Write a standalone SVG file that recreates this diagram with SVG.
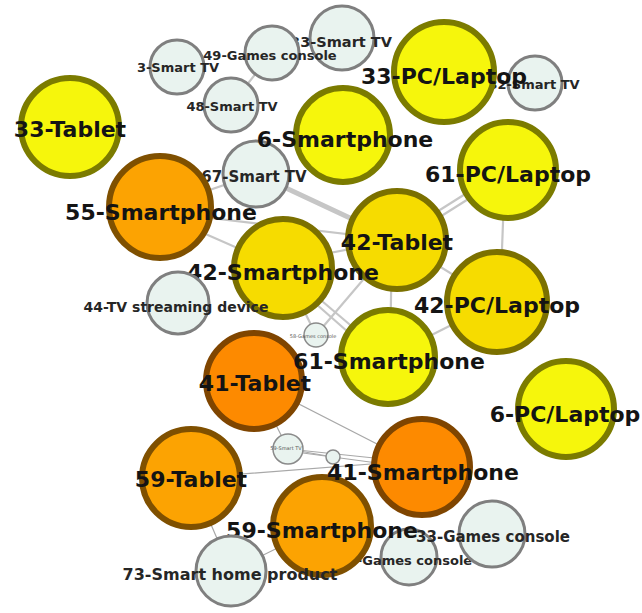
<svg xmlns="http://www.w3.org/2000/svg" width="642" height="613" viewBox="0 0 642 613">
<style>
  .e { stroke: #c6c6c6; fill: none; stroke-linecap: round; }
  .e1 { stroke-width: 1.2; stroke: #a8a8a8; }
  .e2 { stroke-width: 2.2; }
  .e5 { stroke-width: 5; }
  .big { stroke-width: 6; }
  .sm { fill: #e9f3ef; stroke: #7f7f7f; stroke-width: 3; }
  .tiny { fill: #e9f3ef; stroke: #8a8a8a; stroke-width: 1.5; }
  .yel { fill: #f6f60c; stroke: #7b7b00; }
  .gold { fill: #f6dc00; stroke: #7b7000; }
  .org { fill: #fca302; stroke: #7f5000; }
  .dorg { fill: #fd8a00; stroke: #7f4500; }
  text { font-family: "DejaVu Sans", "Liberation Sans", sans-serif; font-weight: bold; text-anchor: middle; }
  .lb { font-size: 22px; fill: #141414; }
  .ls { fill: #262626; }
  .lt { font-size: 5px; fill: #555; font-weight: normal; }
</style>
<g id="connectors">
  <line class="e e5" x1="256" y1="174" x2="397" y2="240"/>
  <line class="e e2" x1="160" y1="207" x2="256" y2="174"/>
  <line class="e e2" x1="160" y1="212" x2="397" y2="240"/>
  <line class="e e2" x1="160" y1="214" x2="283" y2="268"/>
  <line class="e e2" x1="397" y1="237" x2="508" y2="167"/>
  <line class="e e2" x1="397" y1="244" x2="508" y2="174"/>
  <line class="e e2" x1="505" y1="170" x2="500" y2="302"/>
  <line class="e e2" x1="397" y1="240" x2="497" y2="302"/>
  <line class="e e2" x1="392" y1="240" x2="390" y2="357"/>
  <line class="e e2" x1="283" y1="262" x2="397" y2="240"/>
  <line class="e e2" x1="283" y1="268" x2="388" y2="357"/>
  <line class="e e2" x1="283" y1="275" x2="380" y2="360"/>
  <line class="e e2" x1="283" y1="268" x2="316" y2="335"/>
  <line class="e e2" x1="397" y1="240" x2="316" y2="335"/>
  <line class="e e2" x1="388" y1="357" x2="497" y2="302"/>
  <line class="e e2" x1="231" y1="105" x2="272" y2="53"/>
  <line class="e e1" x1="254" y1="381" x2="422" y2="467"/>
  <line class="e e1" x1="191" y1="478" x2="422" y2="460"/>
  <line class="e e1" x1="288" y1="449" x2="422" y2="463"/>
  <line class="e e1" x1="288" y1="451" x2="422" y2="469"/>
  <line class="e e1" x1="288" y1="449" x2="254" y2="381"/>
  <line class="e e1" x1="333" y1="457" x2="288" y2="449"/>
  <line class="e e1" x1="191" y1="478" x2="231" y2="571"/>
  <line class="e e1" x1="322" y1="526" x2="231" y2="571"/>
</g>
<g id="n-3-smart-tv"><circle class="sm" cx="177" cy="67" r="27"/><text class="ls" x="178" y="72" font-size="13">3-Smart TV</text></g>
<g id="n-48-smart-tv"><circle class="sm" cx="231" cy="105" r="27"/><text class="ls" x="232" y="111" font-size="13">48-Smart TV</text></g>
<g id="n-33-smart-tv"><circle class="sm" cx="342" cy="38" r="32"/><text class="ls" x="341" y="47" font-size="14.5">33-Smart TV</text></g>
<g id="n-49-games-console"><circle class="sm" cx="272" cy="53" r="27"/><text class="ls" x="270" y="60" font-size="13">49-Games console</text></g>
<g id="n-32-smart-tv"><circle class="sm" cx="535" cy="83" r="27"/><text class="ls" x="534" y="89" font-size="13">32-Smart TV</text></g>
<g id="n-33-pc-laptop"><circle class="big yel" cx="444" cy="72" r="50"/><text class="lb" x="444" y="84">33-PC/Laptop</text></g>
<g id="n-33-tablet"><circle class="big yel" cx="70" cy="127" r="49"/><text class="lb" x="70" y="137">33-Tablet</text></g>
<g id="n-67-smart-tv"><circle class="sm" cx="256" cy="174" r="33"/><text class="ls" x="254" y="182" font-size="15">67-Smart TV</text></g>
<g id="n-6-smartphone"><circle class="big yel" cx="343" cy="135" r="47"/><text class="lb" x="345" y="147">6-Smartphone</text></g>
<g id="n-55-smartphone"><circle class="big org" cx="160" cy="207" r="51"/><text class="lb" x="161" y="220">55-Smartphone</text></g>
<g id="n-61-pc-laptop"><circle class="big yel" cx="508" cy="170" r="48"/><text class="lb" x="508" y="182">61-PC/Laptop</text></g>
<g id="n-42-tablet"><circle class="big gold" cx="397" cy="240" r="49"/><text class="lb" x="397" y="250">42-Tablet</text></g>
<g id="n-42-pc-laptop"><circle class="big gold" cx="497" cy="302" r="50"/><text class="lb" x="497" y="313">42-PC/Laptop</text></g>
<g id="n-42-smartphone"><circle class="big gold" cx="283" cy="268" r="49"/><text class="lb" x="283" y="280">42-Smartphone</text></g>
<g id="n-44-tv-streaming-device"><circle class="sm" cx="178" cy="303" r="31"/><text class="ls" x="176" y="312" font-size="14">44-TV streaming device</text></g>
<g id="n-41-tablet"><circle class="big dorg" cx="254" cy="381" r="48"/><text class="lb" x="255" y="391">41-Tablet</text></g>
<g id="n-61-smartphone"><circle class="big yel" cx="388" cy="357" r="47"/><text class="lb" x="389" y="369">61-Smartphone</text></g>
<g id="n-games-console-small"><circle class="tiny" cx="316" cy="335" r="12"/><text class="lt" x="313" y="338">58-Games console</text></g>
<g id="n-6-pc-laptop"><circle class="big yel" cx="566" cy="409" r="48"/><text class="lb" x="565" y="422">6-PC/Laptop</text></g>
<g id="n-59-tablet"><circle class="big org" cx="191" cy="478" r="49"/><text class="lb" x="191" y="487">59-Tablet</text></g>
<g id="n-smart-tv-small"><circle class="tiny" cx="288" cy="449" r="15"/><text class="lt" x="286" y="450">59-Smart TV</text></g>
<g id="n-tiny"><circle class="tiny" cx="333" cy="457" r="7"/></g>
<g id="n-3-games-console"><circle class="sm" cx="409" cy="557" r="28"/><text class="ls" x="410" y="565" font-size="13">3-Games console</text></g>
<g id="n-33-games-console"><circle class="sm" cx="492" cy="534" r="33"/><text class="ls" x="493" y="542" font-size="15">33-Games console</text></g>
<g id="n-59-smartphone"><circle class="big org" cx="322" cy="526" r="49"/><text class="lb" x="322" y="538">59-Smartphone</text></g>
<g id="n-41-smartphone"><circle class="big dorg" cx="422" cy="467" r="48"/><text class="lb" x="423" y="480">41-Smartphone</text></g>
<g id="n-73-smart-home-product"><circle class="sm" cx="231" cy="571" r="35"/><text class="ls" x="230" y="580" font-size="16">73-Smart home product</text></g>
</svg>
